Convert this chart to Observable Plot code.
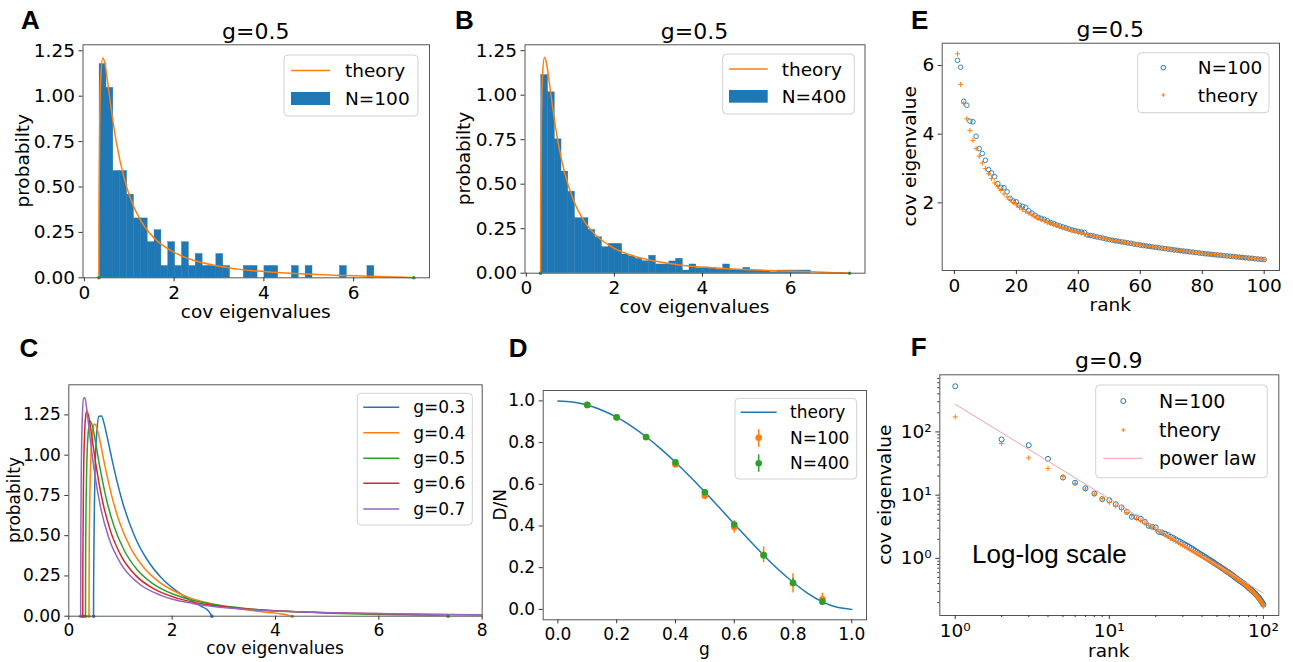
<!DOCTYPE html>
<html><head><meta charset="utf-8">
<script src="https://cdn.jsdelivr.net/npm/d3@7"></script>
<script src="https://cdn.jsdelivr.net/npm/@observablehq/plot@0.6"></script>
<style>
body{margin:0;background:#fff;}
#fig{position:relative;width:1293px;height:662px;overflow:hidden;background:#fff;}
svg.tk18 text{font-size:18.5px !important;font-family:"DejaVu Sans",sans-serif !important;}
svg.tk17 text{font-size:17px !important;font-family:"DejaVu Sans",sans-serif !important;}
</style></head><body><div id="fig"></div>
<script>
// ---------------- DATA ----------------
// Histogram bins (A, B): 40 bins starting at binLo, width binW
const binLo = 0.34, binW = 0.153;
const histA = [1.177,1.046,0.588,0.588,0.458,0.327,0.327,0.196,0.262,0.065,0.196,0.065,0.196,0.065,0.131,0.065,0.065,0.131,0.065,0,0,0.065,0.065,0,0.065,0.065,0,0,0.065,0,0.065,0,0,0,0,0.065,0,0,0,0.065];
const histB = [1.113,1.016,0.752,0.571,0.458,0.309,0.309,0.243,0.202,0.146,0.165,0.165,0.105,0.094,0.081,0.067,0.098,0.049,0.049,0.066,0.081,0.015,0.049,0.028,0.032,0.028,0.02,0.049,0.02,0.02,0.03,0.015,0.015,0.01,0.005,0.015,0.015,0.015,0.015,0.015];

// theory densities [eigenvalue, probability]
const g03 = [[0.4792,0],[0.4799,0.160],[0.5089,0.910],[0.5387,1.130],[0.5851,1.242],[0.6334,1.244],[0.6836,1.196],[0.7537,1.097],[0.8461,0.958],[0.9439,0.823],[1.0471,0.700],[1.2699,0.500],[1.5143,0.352],[1.7806,0.242],[2.0686,0.160],[2.3784,0.095],[2.5415,0.065],[2.7101,0.030],[2.7693,0]];
const g04 = [[0.3903,0],[0.3961,0.464],[0.4231,0.950],[0.4652,1.161],[0.4944,1.193],[0.5246,1.185],[0.5876,1.110],[0.6890,0.949],[0.8178,0.763],[0.9788,0.586],[1.2009,0.421],[1.4463,0.304],[1.7149,0.221],[2.0070,0.161],[2.3224,0.117],[2.6613,0.085],[3.0237,0.060],[3.4097,0.041],[3.8192,0.025],[4.1198,0.014],[4.3233,0]];
const g05 = [[0.3228,0],[0.3258,0.371],[0.3445,0.885],[0.3704,1.118],[0.4110,1.211],[0.4539,1.185],[0.5145,1.086],[0.5957,0.935],[0.72,0.737],[0.8770,0.557],[1.0730,0.408],[1.3148,0.292],[1.6103,0.206],[1.9681,0.144],[2.3976,0.099],[2.9092,0.068],[3.5139,0.045],[4.2237,0.030],[5.0513,0.019],[5.8445,0.012],[6.5799,0.007],[7.1151,0.003],[7.34,0]];
const g06 = [[0.2705,0],[0.2723,0.332],[0.2841,0.826],[0.3084,1.155],[0.3273,1.244],[0.3468,1.272],[0.3876,1.238],[0.4458,1.116],[0.5247,0.941],[0.6466,0.723],[0.8026,0.533],[1.0228,0.369],[1.2980,0.252],[1.6681,0.166],[2.1217,0.109],[2.6717,0.072],[3.3759,0.047],[4.3149,0.029],[5.5439,0.018],[7.0619,0.011],[8.064,0.008]];
const g07 = [[0.2294,0],[0.2332,0.545],[0.2445,0.977],[0.2619,1.238],[0.2862,1.353],[0.3117,1.356],[0.3521,1.274],[0.4102,1.113],[0.4896,0.911],[0.6139,0.677],[0.7748,0.485],[1.0049,0.327],[1.3245,0.211],[1.7922,0.128],[2.4160,0.078],[3.2797,0.046],[4.4501,0.027],[5.9406,0.016],[7.2988,0.011],[8.0336,0.009]];
const gLabels = ["g=0.3","g=0.4","g=0.5","g=0.6","g=0.7"];
const edgesA = [0.3228, 7.34];

// D
const gGrid = [0,0.05,0.1,0.15,0.2,0.25,0.3,0.35,0.4,0.45,0.5,0.55,0.6,0.65,0.7,0.75,0.8,0.85,0.9,0.95,1.0];
const dTheory = [1.0,0.995,0.98,0.955,0.922,0.879,0.828,0.77,0.706,0.636,0.563,0.487,0.41,0.334,0.26,0.191,0.13,0.077,0.036,0.01,0.0];
const gPts = [0.1,0.2,0.3,0.4,0.5,0.6,0.7,0.8,0.9];
const d100 = [0.98,0.92,0.826,0.695,0.545,0.395,0.262,0.125,0.048];
const d100err = [0.005,0.006,0.008,0.01,0.016,0.03,0.038,0.046,0.03];
const d400 = [0.981,0.922,0.827,0.705,0.562,0.407,0.259,0.128,0.037];
const d400err = [0.003,0.004,0.005,0.006,0.008,0.012,0.015,0.02,0.012];

// E (g=0.5, rank 1..100)
const eN100 = [6.15,5.95,4.96,4.84,4.38,4.36,3.94,3.58,3.44,3.24,
2.97,2.87,2.76,2.56,2.45,2.44,2.32,2.13,2.05,2.03,
1.93,1.90,1.87,1.77,1.70,1.64,1.58,1.55,1.52,1.48,
1.43,1.40,1.36,1.33,1.30,1.27,1.24,1.21,1.19,1.17,
1.15,1.14,1.06,1.05,1.03,1.01,0.99,0.97,0.95,0.93,
0.91,0.895,0.88,0.865,0.85,0.835,0.82,0.80,0.785,0.77,
0.756,0.743,0.73,0.717,0.705,0.692,0.68,0.667,0.655,0.642,
0.63,0.618,0.607,0.596,0.585,0.574,0.563,0.552,0.54,0.528,
0.518,0.509,0.5,0.49,0.481,0.472,0.463,0.454,0.445,0.437,
0.428,0.419,0.41,0.401,0.392,0.383,0.374,0.365,0.355,0.35];
const eTheory = [6.34,5.45,4.9,4.45,4.11,3.82,3.58,3.36,3.16,3.0,
2.85,2.71,2.58,2.47,2.36,2.26,2.17,2.09,2.01,1.94,
1.87,1.81,1.75,1.70,1.65,1.60,1.55,1.51,1.47,1.43,
1.40,1.37,1.34,1.31,1.28,1.25,1.22,1.195,1.17,1.14,
1.115,1.09,1.07,1.05,1.03,1.01,0.99,0.97,0.95,0.93,
0.913,0.896,0.88,0.864,0.848,0.833,0.818,0.803,0.789,0.775,
0.761,0.747,0.734,0.721,0.708,0.695,0.682,0.67,0.657,0.645,
0.633,0.621,0.61,0.599,0.588,0.577,0.566,0.555,0.542,0.53,
0.52,0.511,0.502,0.493,0.484,0.475,0.466,0.457,0.448,0.44,
0.431,0.422,0.413,0.404,0.395,0.386,0.377,0.367,0.357,0.345];

// F (g=0.9, rank 1..100, log-log)
const fN100 = [527,75.9,61.7,37.5,19.0,15.7,12.8,10.6,8.65,8.3,
7.2,6.4,5.45,4.55,4.44,4.23,3.79,3.27,3.16,3.09,
2.63,2.57,2.45,2.35,2.2,2.1,2.0,1.9,1.82,1.74,
1.66,1.59,1.52,1.45,1.39,1.33,1.27,1.22,1.17,1.13,
1.09,1.05,1.01,0.97,0.94,0.91,0.88,0.85,0.82,0.79,
0.77,0.745,0.72,0.70,0.68,0.66,0.64,0.62,0.605,0.59,
0.57,0.555,0.54,0.525,0.51,0.495,0.48,0.47,0.455,0.445,
0.435,0.425,0.415,0.405,0.395,0.385,0.375,0.365,0.355,0.345,
0.337,0.33,0.32,0.312,0.304,0.296,0.288,0.28,0.272,0.265,
0.257,0.25,0.242,0.234,0.226,0.218,0.21,0.202,0.194,0.185];
const fTheory = [172.6,65.6,38.9,26.4,19.5,15.3,12.5,10.4,8.8,7.6,
6.7,5.9,5.3,4.75,4.3,3.92,3.6,3.32,3.07,2.85,
2.66,2.49,2.33,2.2,2.07,1.96,1.86,1.77,1.68,1.6,
1.53,1.46,1.40,1.34,1.29,1.24,1.19,1.15,1.11,1.07,
1.03,1.0,0.965,0.935,0.905,0.875,0.85,0.825,0.80,0.775,
0.755,0.73,0.71,0.69,0.67,0.652,0.634,0.616,0.6,0.584,
0.568,0.553,0.538,0.524,0.51,0.497,0.484,0.471,0.459,0.447,
0.435,0.424,0.413,0.402,0.392,0.382,0.372,0.362,0.353,0.344,
0.335,0.326,0.317,0.309,0.3,0.292,0.284,0.276,0.268,0.26,
0.252,0.244,0.236,0.228,0.22,0.212,0.204,0.196,0.188,0.175];
const powerRank = [1, 100];
const powerVal = [274, 0.28];

// ---------------- STYLE ----------------
const BLUE="#1f77b4", ORANGE="#ff7f0e", GREEN="#2ca02c", RED="#d62728", PURPLE="#9467bd", PINK="#f2a2a2";
const FRAME="#555", TICK="#333";
const fig = document.getElementById("fig");
const sty = fs => ({fontFamily:"DejaVu Sans", fontSize: fs+"px", background:"transparent", color:"#000", overflow:"visible"});
function place(svg, left, top, cls){ svg.classList.add(cls); svg.style.position="absolute"; svg.style.left=left+"px"; svg.style.top=top+"px"; svg.style.maxWidth="none"; fig.appendChild(svg); }
const ax = (o) => Object.assign({tickSize:4, tickPadding:4, label:null, stroke:TICK, fill:"#000"}, o);
const bins = h => h.map((d,i)=>({x1: binLo+i*binW, x2: binLo+(i+1)*binW, d})).filter(r=>r.d>0);
const P = a => a.map(([x,y])=>({x,y}));
const ranks = d3.range(1, 101);
const FS = 18.5, FS2 = 17;

// ---------- A ----------
place(Plot.plot({
  width:440, height:330, marginLeft:82.5, marginRight:11, marginTop:44.3, marginBottom:52.7,
  style: sty(FS), x:{domain:[-0.03,7.69]}, y:{domain:[0,1.283]},
  marks:[
    Plot.rect(bins(histA), {x1:"x1", x2:"x2", y1:0, y2:"d", fill:BLUE, stroke:BLUE, strokeWidth:0.4}),
    Plot.line(P(g05), {x:"x", y:"y", stroke:ORANGE, strokeWidth:1.5, curve:"monotone-x"}),
    Plot.dot(edgesA, {x:d=>d, y:0, r:1.8, fill:GREEN}),
    Plot.frame({stroke:FRAME}),
    Plot.axisX(ax({ticks:[0,2,4,6]})),
    Plot.axisY(ax({ticks:[0,0.25,0.5,0.75,1,1.25], tickFormat:d3.format(".2f")}))
  ]}), 0, 0, "tk18");

// ---------- B ----------
place(Plot.plot({
  width:435, height:330, marginLeft:84.5, marginRight:10.5, marginTop:44.3, marginBottom:57.3,
  style: sty(FS), x:{domain:[-0.03,7.69]}, y:{domain:[0,1.283]},
  marks:[
    Plot.rect(bins(histB), {x1:"x1", x2:"x2", y1:0, y2:"d", fill:BLUE, stroke:BLUE, strokeWidth:0.4}),
    Plot.line(P(g05), {x:"x", y:"y", stroke:ORANGE, strokeWidth:1.5, curve:"monotone-x"}),
    Plot.dot(edgesA, {x:d=>d, y:0, r:1.8, fill:GREEN}),
    Plot.frame({stroke:FRAME}),
    Plot.axisX(ax({ticks:[0,2,4,6]})),
    Plot.axisY(ax({ticks:[0,0.25,0.5,0.75,1,1.25], tickFormat:d3.format(".2f")}))
  ]}), 440, 0, "tk18");

// ---------- E ----------
place(Plot.plot({
  width:418, height:330, marginLeft:66.7, marginRight:14, marginTop:42.7, marginBottom:60,
  style: sty(FS), x:{domain:[-3.95,104.95]}, y:{domain:[0.03,6.65]},
  marks:[
    Plot.dot(ranks, {x:d=>d, y:(d,i)=>eN100[i], r:2.3, stroke:BLUE, strokeWidth:0.9, fill:"none"}),
    Plot.dot(ranks, {x:d=>d, y:(d,i)=>eTheory[i], r:1.8, symbol:"plus", stroke:ORANGE, strokeWidth:1}),
    Plot.frame({stroke:FRAME}),
    Plot.axisX(ax({ticks:[0,20,40,60,80,100], tickFormat:d3.format("d")})),
    Plot.axisY(ax({ticks:[2,4,6], tickFormat:d3.format("d")}))
  ]}), 875, 0, "tk18");

// ---------- C ----------
const cCurves = [g03,g04,g05,g06,g07];
const cColors = [BLUE,ORANGE,GREEN,RED,PURPLE];
const cEnds = [[0.4792,2.7693],[0.3903,4.3233],[0.3228,7.34],[0.2705],[0.2294]];
place(Plot.plot({
  width:490, height:332, marginLeft:68.3, marginRight:8.3, marginTop:54.3, marginBottom:46.3,
  style: sty(FS2), x:{domain:[0,8]}, y:{domain:[0,1.437]},
  marks:[
    ...cCurves.map((c,k)=>Plot.line(P(c), {x:"x", y:"y", stroke:cColors[k], strokeWidth:1.5, curve:"monotone-x", clip:true})),
    ...cEnds.map((e,k)=>Plot.dot(e, {x:d=>d, y:0, r:1.8, fill:cColors[k]})),
    Plot.frame({stroke:FRAME}),
    Plot.axisX(ax({ticks:[0,2,4,6,8], tickFormat:d3.format("d")})),
    Plot.axisY(ax({ticks:[0,0.25,0.5,0.75,1,1.25], tickFormat:d3.format(".2f")}))
  ]}), 0, 330, "tk17");

// ---------- D ----------
const dRows100 = gPts.map((g,i)=>({g, v:d100[i], e:d100err[i]}));
const dRows400 = gPts.map((g,i)=>({g, v:d400[i], e:d400err[i]}));
place(Plot.plot({
  width:385, height:332, marginLeft:52.7, marginRight:9, marginTop:60, marginBottom:42.7,
  style: sty(FS2), x:{domain:[-0.05,1.05]}, y:{domain:[-0.05,1.05]},
  marks:[
    Plot.line(gGrid, {x:d=>d, y:(d,i)=>dTheory[i], stroke:BLUE, strokeWidth:1.5, curve:"natural"}),
    Plot.ruleX(dRows100, {x:"g", y1:d=>d.v-d.e, y2:d=>d.v+d.e, stroke:ORANGE, strokeWidth:1.5}),
    Plot.dot(dRows100, {x:"g", y:"v", r:3.3, fill:ORANGE}),
    Plot.ruleX(dRows400, {x:"g", y1:d=>d.v-d.e, y2:d=>d.v+d.e, stroke:GREEN, strokeWidth:1.5}),
    Plot.dot(dRows400, {x:"g", y:"v", r:3.3, fill:GREEN}),
    Plot.frame({stroke:FRAME}),
    Plot.axisX(ax({ticks:[0,0.2,0.4,0.6,0.8,1.0], tickFormat:d3.format(".1f")})),
    Plot.axisY(ax({ticks:[0,0.2,0.4,0.6,0.8,1.0], tickFormat:d3.format(".1f")}))
  ]}), 490, 330, "tk17");

// ---------- F ----------
const sup = {1:"10\u2070", 10:"10\u00b9", 100:"10\u00b2"};
const minorX = [2,3,4,5,6,7,8,9,20,30,40,50,60,70,80,90];
const minorY = [0.2,0.3,0.4,0.5,0.6,0.7,0.8,0.9,2,3,4,5,6,7,8,9,20,30,40,50,60,70,80,90,200,300,400,500,600,700];
place(Plot.plot({
  width:418, height:332, marginLeft:64.3, marginRight:14.7, marginTop:44.3, marginBottom:47,
  style: sty(FS), x:{type:"log", domain:[0.794,125.9]}, y:{type:"log", domain:[0.125,800]},
  marks:[
    Plot.dot(ranks, {x:d=>d, y:(d,i)=>fN100[i], r:2.5, stroke:BLUE, strokeWidth:1, fill:"none"}),
    Plot.dot(ranks, {x:d=>d, y:(d,i)=>fTheory[i], r:1.8, symbol:"plus", stroke:ORANGE, strokeWidth:1}),
    Plot.line(powerRank, {x:d=>d, y:(d,i)=>powerVal[i], stroke:PINK, strokeWidth:1}),
    Plot.frame({stroke:FRAME}),
    Plot.axisX(ax({ticks:[1,10,100], tickFormat:d=>sup[d]})),
    Plot.axisX(ax({ticks:minorX, tickFormat:()=>"", tickSize:2})),
    Plot.axisY(ax({ticks:[1,10,100], tickFormat:d=>sup[d]})),
    Plot.axisY(ax({ticks:minorY, tickFormat:()=>"", tickSize:2}))
  ]}), 875, 330, "tk18");

// ---------------- OVERLAY TEXT & LEGENDS ----------------
const ov = d3.select(fig).append("svg").attr("width",1293).attr("height",662)
  .style("position","absolute").style("left","0px").style("top","0px").style("overflow","visible");
function T(s, x, y, o={}) {
  const t = ov.append("text")
    .attr("transform", `translate(${x},${y})` + (o.rotate ? ` rotate(${o.rotate})` : ""))
    .attr("text-anchor", o.anchor || "start")
    .attr("font-family", o.family || "DejaVu Sans")
    .attr("font-size", o.size || FS)
    .attr("font-weight", o.weight || "normal")
    .attr("fill", "#000").text(s);
  if (o.dy) t.attr("dy", o.dy);
}
const bold = {family:"Liberation Sans, Arial, sans-serif", weight:"bold", size:26};
T("A", 21, 29, bold); T("B", 455, 29, bold); T("E", 911, 29, bold);
T("C", 19.5, 356.5, bold); T("D", 508.7, 356.5, bold); T("F", 910.7, 356, bold);

T("g=0.5", 255.75, 38.5, {anchor:"middle", size:22});
T("g=0.5", 694.5, 38.5, {anchor:"middle", size:22});
T("g=0.5", 1110.3, 36.5, {anchor:"middle", size:22});
T("g=0.9", 1108.8, 367.5, {anchor:"middle", size:22});

T("cov eigenvalues", 255.75, 318, {anchor:"middle"});
T("cov eigenvalues", 694.5, 313, {anchor:"middle"});
T("rank", 1110.3, 311, {anchor:"middle"});
T("cov eigenvalues", 275, 654, {anchor:"middle", size:FS2});
T("g", 704.4, 655, {anchor:"middle", size:FS2});
T("rank", 1108.8, 657, {anchor:"middle"});

T("probabilty", 29, 160.8, {anchor:"middle", rotate:-90});
T("probabilty", 469.6, 158.5, {anchor:"middle", rotate:-90});
T("cov eigenvalue", 915.6, 156.3, {anchor:"middle", rotate:-90});
T("probabilty", 19.5, 500, {anchor:"middle", rotate:-90, size:FS2});
T("D/N", 505.5, 504.7, {anchor:"middle", rotate:-90, size:FS2});
T("cov eigenvalue", 890.6, 494.7, {anchor:"middle", rotate:-90});

T("Log-log scale", 972, 563, {family:"Liberation Sans, Arial, sans-serif", size:26});

function box(x,y,w,h){ ov.append("rect").attr("x",x).attr("y",y).attr("width",w).attr("height",h).attr("rx",4)
  .attr("fill","#fff").attr("fill-opacity",0.8).attr("stroke","#d0d0d0").attr("stroke-width",1); }
function hline(x1,x2,y,c,w=1.5){ ov.append("line").attr("x1",x1).attr("x2",x2).attr("y1",y).attr("y2",y).attr("stroke",c).attr("stroke-width",w); }
function vline(x,y1,y2,c,w=1.5){ ov.append("line").attr("x1",x).attr("x2",x).attr("y1",y1).attr("y2",y2).attr("stroke",c).attr("stroke-width",w); }
function circ(x,y,r,c,filled){ ov.append("circle").attr("cx",x).attr("cy",y).attr("r",r).attr("fill",filled?c:"none").attr("stroke",filled?"none":c).attr("stroke-width",1); }
function plus(x,y,s,c){ ov.append("path").attr("d",`M${x-s},${y}H${x+s}M${x},${y-s}V${y+s}`).attr("stroke",c).attr("stroke-width",1).attr("fill","none"); }

// A legend
box(284,55,134,61);
hline(291,330,70.5,ORANGE); T("theory",345,70.5,{dy:"0.36em"});
ov.append("rect").attr("x",291).attr("y",92).attr("width",39).attr("height",13).attr("fill",BLUE);
T("N=100",345,98.5,{dy:"0.36em"});
// B legend
box(722.7,54,131.6,60);
hline(729,767.7,69,ORANGE); T("theory",781.7,69,{dy:"0.36em"});
ov.append("rect").attr("x",729).attr("y",90).attr("width",38.7).attr("height",12.7).attr("fill",BLUE);
T("N=400",781.7,96.3,{dy:"0.36em"});
// E legend
box(1137.7,52.7,131.3,60);
circ(1163.3,67.7,2.3,BLUE,false); T("N=100",1197.7,67.7,{dy:"0.36em"});
plus(1163.3,95,2,ORANGE); T("theory",1197.7,95,{dy:"0.36em"});
// C legend
box(357.3,393.3,115,131.7);
const cy = [407.3,432.7,458.3,483.3,509];
cy.forEach((y,k)=>{ hline(363.3,399.3,y,cColors[k]); T(gLabels[k],413.3,y,{dy:"0.36em", size:FS2}); });
// D legend
box(735,398.3,121.7,80.7);
hline(740.7,776.7,412.3,BLUE); T("theory",790,412.3,{dy:"0.36em", size:FS2});
vline(758.7,429.3,446.7,ORANGE); circ(758.7,437.7,3.3,ORANGE,true); T("N=100",790,437.7,{dy:"0.36em", size:FS2});
vline(758.7,454.3,471.7,GREEN); circ(758.7,463.3,3.3,GREEN,true); T("N=400",790,463.3,{dy:"0.36em", size:FS2});
// F legend
box(1095.7,385,171.6,92.7);
circ(1123.3,401,2.5,BLUE,false); T("N=100",1159,401,{dy:"0.36em", size:19});
plus(1123.3,430,2,ORANGE); T("theory",1159,430,{dy:"0.36em", size:19});
hline(1103.3,1142.7,458.3,PINK,1); T("power law",1159,458.3,{dy:"0.36em", size:19});
</script></body></html>
